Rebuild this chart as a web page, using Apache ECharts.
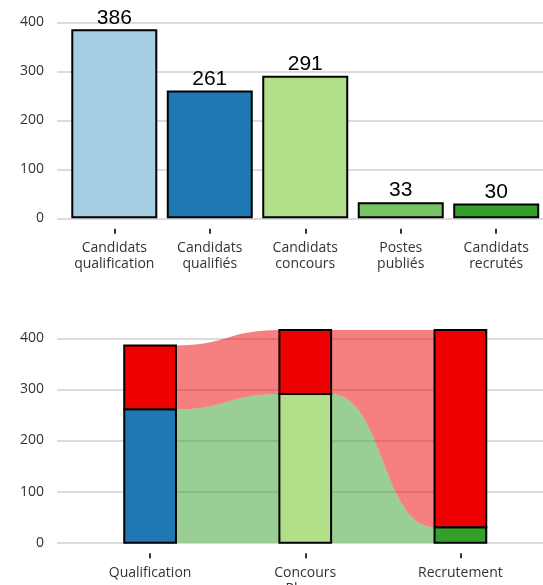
<!DOCTYPE html>
<html><head><meta charset="utf-8">
<script src="https://cdn.jsdelivr.net/npm/echarts@6/dist/echarts.min.js"></script>
<style>html,body{margin:0;padding:0;background:#fff}#c{width:543px;height:585px}</style>
</head><body><div id="c"></div>
<script>
// ---- data ----
const topCategories = ['Candidats\nqualification', 'Candidats\nqualifiés', 'Candidats\nconcours', 'Postes\npubliés', 'Candidats\nrecrutés'];
const topValues = [386, 261, 291, 33, 30];
const topColors = ['#A6CEE3', '#1F78B4', '#B2DF8A', '#78C364', '#33A02C'];

const phases = ['Qualification', 'Concours', 'Recrutement'];
const passedCounts = [261, 291, 30];
const droppedCounts = [125, 125, 386];
const passedColors = ['#1F78B4', '#B2DF8A', '#33A02C'];
const droppedColor = '#EE0000';
const flowColors = { passed: 'rgba(51,160,44,0.5)', dropped: 'rgba(238,0,0,0.5)' };

// ---- build ----
const labelFont = { fontFamily: 'Open Sans', fontSize: 14, color: '#333' };
const HALF = 1 / 6;

const topData = topValues.map((v, i) => ({ value: [i + 1, v], itemStyle: { color: topColors[i] } }));

const stratumData = [];
phases.forEach((p, i) => {
  stratumData.push({ value: [i + 1, 0, passedCounts[i]], color: passedColors[i] });
  stratumData.push({ value: [i + 1, passedCounts[i], passedCounts[i] + droppedCounts[i]], color: droppedColor });
});
const flowData = [];
for (let i = 0; i < phases.length - 1; i++) {
  flowData.push({ value: [i + 1, 0, passedCounts[i], i + 2, 0, passedCounts[i + 1]], color: flowColors.passed });
  flowData.push({ value: [i + 1, passedCounts[i], passedCounts[i] + droppedCounts[i], i + 2, passedCounts[i + 1], passedCounts[i + 1] + droppedCounts[i + 1]], color: flowColors.dropped });
}

function rectItem(params, api) {
  const x = api.value(0), lo = api.value(1), hi = api.value(2);
  const p0 = api.coord([x - HALF, hi]);
  const p1 = api.coord([x + HALF, lo]);
  return {
    type: 'rect',
    shape: { x: p0[0], y: p0[1], width: p1[0] - p0[0], height: p1[1] - p0[1] },
    style: { fill: stratumData[params.dataIndex].color, stroke: '#000', lineWidth: 2 }
  };
}
function flowItem(params, api) {
  const x0 = api.value(0) + HALF, x1 = api.value(3) - HALF;
  const a = api.coord([x0, api.value(1)]), b = api.coord([x0, api.value(2)]);
  const c = api.coord([x1, api.value(5)]), d = api.coord([x1, api.value(4)]);
  const mx = (a[0] + c[0]) / 2;
  const path = `M${b[0]},${b[1]} C${mx},${b[1]} ${mx},${c[1]} ${c[0]},${c[1]} L${d[0]},${d[1]} C${mx},${d[1]} ${mx},${a[1]} ${a[0]},${a[1]} Z`;
  return { type: 'path', shape: { pathData: path }, style: { fill: flowData[params.dataIndex].color } };
}

const yAxisCommon = {
  type: 'value', min: 0, max: 400, interval: 100,
  axisLine: { show: false }, axisTick: { show: false },
  axisLabel: Object.assign({ margin: 13 }, labelFont),
  splitLine: { lineStyle: { color: '#dcdcdc', width: 2 } }
};
const hiddenLine = { show: true, onZero: false, lineStyle: { color: 'rgba(0,0,0,0)', width: 0 } };

const chart = echarts.init(document.getElementById('c'), null, { renderer: 'canvas' });
chart.setOption({
  animation: false,
  grid: [
    { left: 57, width: 496.5, top: 22.5, height: 195.8, outerBoundsMode: 'none', containLabel: false },
    { left: 57, width: 496.5, top: 338.3, height: 204.4, outerBoundsMode: 'none', containLabel: false }
  ],
  xAxis: [
    {
      gridIndex: 0, type: 'value', min: 0.4, max: 5.6, offset: 10.5,
      axisLine: hiddenLine, splitLine: { show: false },
      axisTick: { show: true, customValues: [1, 2, 3, 4, 5], length: 5, lineStyle: { color: '#333', width: 2 } },
      axisLabel: Object.assign({ customValues: [1, 2, 3, 4, 5], margin: 11, lineHeight: 16,
        formatter: v => topCategories[Math.round(v) - 1] || '' }, labelFont)
    },
    {
      gridIndex: 1, type: 'value', min: 0.4, max: 3.6, offset: 10.5,
      axisLine: hiddenLine, splitLine: { show: false },
      axisTick: { show: true, customValues: [1, 2, 3], length: 5, lineStyle: { color: '#333', width: 2 } },
      axisLabel: Object.assign({ customValues: [1, 2, 3], margin: 13,
        formatter: v => phases[Math.round(v) - 1] || '' }, labelFont),
      name: 'Phase', nameLocation: 'middle', nameGap: 29,
      nameTextStyle: Object.assign({}, labelFont)
    }
  ],
  yAxis: [
    Object.assign({ gridIndex: 0 }, yAxisCommon),
    Object.assign({ gridIndex: 1 }, yAxisCommon)
  ],
  series: [
    {
      type: 'bar', xAxisIndex: 0, yAxisIndex: 0, barWidth: 86, data: topData,
      itemStyle: { borderColor: '#000', borderWidth: 2 },
      label: { show: true, position: 'top', distance: 1, fontFamily: 'Liberation Sans', fontSize: 21, color: '#000',
        formatter: p => p.value[1] }
    },
    {
      type: 'custom', xAxisIndex: 1, yAxisIndex: 1, clip: false, z: 2,
      data: flowData.map(d => d.value), renderItem: flowItem
    },
    {
      type: 'custom', xAxisIndex: 1, yAxisIndex: 1, clip: false, z: 3,
      data: stratumData.map(d => d.value), renderItem: rectItem
    }
  ]
});
</script></body></html>
